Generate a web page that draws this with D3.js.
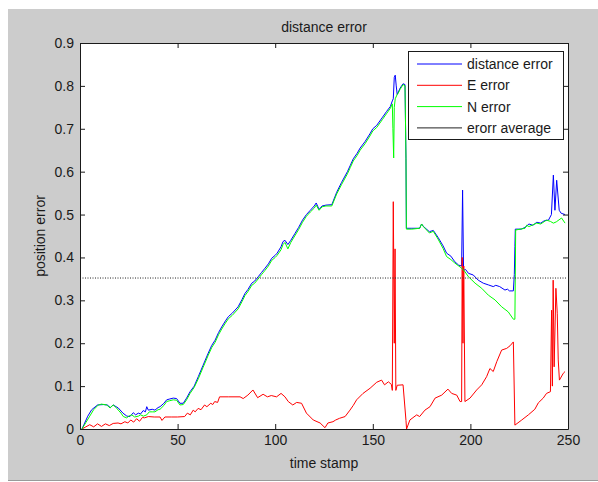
<!DOCTYPE html>
<html>
<head>
<meta charset="utf-8">
<script src="https://cdn.jsdelivr.net/npm/d3@7/dist/d3.min.js"></script>
<style>
  body { margin: 0; background: #fff; }
  svg text { font-family: "Liberation Sans", Arial, sans-serif; fill: #1a1a1a; }
</style>
</head>
<body>
<div id="chart"></div>
<script>
// series: [time stamp, position error]
var distanceError = [[1,0],[2,0.01],[4,0.03],[6,0.045],[9,0.056],[12,0.057],[14,0.056],[15.5,0.05],[17,0.056],[19.6,0.049],[22,0.037],[24,0.03],[25.6,0.029],[27.3,0.038],[28.5,0.033],[29.9,0.037],[31,0.035],[32.4,0.043],[33.5,0.04],[34.2,0.052],[35,0.044],[37,0.046],[38.4,0.044],[40,0.05],[41,0.052],[43,0.06],[44.4,0.068],[46,0.07],[47.8,0.072],[49.5,0.071],[51.2,0.06],[52.9,0.06],[54.6,0.072],[56.4,0.087],[58.5,0.1],[60.6,0.122],[63,0.148],[65.7,0.177],[67.5,0.195],[69.2,0.207],[71,0.225],[72.6,0.238],[74.5,0.252],[76,0.262],[78,0.27],[81,0.285],[83,0.302],[84.5,0.316],[86,0.325],[88,0.34],[89.5,0.345],[91.3,0.355],[93,0.365],[94.8,0.375],[96.5,0.385],[98.2,0.398],[100,0.405],[101,0.41],[103,0.425],[104,0.437],[105,0.44],[106.5,0.43],[108,0.44],[110,0.455],[112,0.47],[114,0.487],[116,0.5],[118,0.51],[120,0.52],[121,0.527],[122.5,0.512],[124,0.52],[126,0.522],[129,0.523],[131.5,0.552],[134,0.575],[137,0.6],[138.5,0.615],[140,0.63],[142,0.643],[143.5,0.655],[146,0.67],[148.5,0.688],[150,0.7],[152,0.708],[155,0.727],[157,0.74],[159,0.752],[160,0.765],[160.5,0.77],[161,0.82],[161.5,0.825],[162,0.8],[162.5,0.78],[163,0.785],[164,0.795],[165.5,0.805],[166.5,0.803],[167,0.63],[167.2,0.468],[170,0.468],[174,0.468],[175,0.478],[176,0.472],[179,0.46],[181,0.463],[183.4,0.447],[186,0.427],[187.8,0.41],[190,0.403],[192,0.39],[194,0.382],[195.5,0.38],[196,0.557],[196.5,0.37],[197.5,0.372],[199,0.363],[201.5,0.359],[204,0.347],[206.6,0.34],[209.2,0.336],[211.7,0.332],[213,0.335],[215,0.332],[217.7,0.324],[219,0.326],[220,0.322],[222,0.322],[222.5,0.36],[222.8,0.425],[223,0.466],[226,0.466],[228,0.47],[230,0.478],[232,0.475],[234,0.482],[236,0.48],[238,0.486],[240,0.487],[241.5,0.5],[242.5,0.592],[243.3,0.51],[244.2,0.58],[245.5,0.51],[246.5,0.503],[248.5,0.5]];

var eError = [[1,0],[3,0.005],[5,0.01],[7,0.005],[9,0.012],[11,0.006],[13,0.012],[15,0.008],[17,0.013],[19.5,0.014],[21,0.012],[23,0.017],[24.5,0.014],[26,0.021],[27.5,0.016],[29,0.024],[30.5,0.018],[32,0.027],[33,0.026],[35,0.029],[38,0.028],[41,0.028],[42,0.02],[43.5,0.028],[47,0.028],[50,0.028],[53.6,0.029],[55,0.037],[56.5,0.033],[58,0.044],[59,0.04],[60.5,0.048],[62,0.045],[63.8,0.056],[65,0.052],[67,0.06],[68,0.057],[69,0.064],[70.5,0.062],[71.5,0.075],[76,0.075],[82,0.075],[83.6,0.071],[86,0.079],[88.6,0.091],[91,0.073],[93.8,0.081],[96,0.075],[98,0.078],[100.7,0.075],[103,0.083],[105,0.075],[106.7,0.064],[109,0.056],[111,0.062],[113.5,0.06],[116,0.037],[119.5,0.021],[123,0.014],[125.5,0.003],[127,0.014],[129.6,0.017],[131,0.021],[133,0.025],[135.8,0.029],[138.3,0.044],[140,0.055],[141.7,0.068],[145,0.083],[148.6,0.095],[152,0.109],[154.5,0.114],[156,0.103],[158,0.11],[159.5,0.104],[160,0.09],[160.5,0.53],[161,0.2],[161.4,0.42],[161.8,0.09],[162.5,0.102],[165.5,0.103],[167,0.02],[167.3,0],[169,0.021],[172.5,0.033],[174,0.029],[176.7,0.044],[179.3,0.052],[181.9,0.072],[185.3,0.079],[188.5,0.093],[190.4,0.083],[193,0.079],[194.7,0.064],[195.5,0.064],[195.8,0.4],[196.2,0.2],[196.6,0.38],[197.2,0.064],[199.8,0.072],[203.2,0.091],[205.8,0.103],[208.3,0.122],[210,0.141],[211.7,0.134],[213.5,0.157],[216,0.184],[218.6,0.188],[220.3,0.194],[222,0.203],[222.8,0.009],[226.3,0.021],[229.7,0.033],[233,0.046],[234.8,0.061],[237.3,0.072],[239,0.083],[241,0.087],[241.6,0.277],[242,0.1],[242.4,0.347],[242.9,0.145],[243.8,0.328],[244.5,0.27],[245,0.161],[245.6,0.114],[247.6,0.13],[248.5,0.134]];

var nError = [[1,0],[3,0.015],[5,0.03],[7,0.045],[9.4,0.056],[11,0.058],[13.7,0.056],[15.4,0.049],[17,0.056],[18.5,0.05],[19.6,0.044],[21,0.037],[22.2,0.029],[23.9,0.026],[25,0.03],[26.5,0.033],[28,0.028],[29.9,0.03],[31,0.033],[32.5,0.03],[34.2,0.033],[35.5,0.04],[37,0.04],[38.4,0.04],[40,0.045],[41,0.046],[43,0.055],[44.4,0.064],[46,0.066],[47.8,0.068],[49.5,0.067],[51.2,0.056],[52.9,0.057],[54.6,0.068],[56.4,0.083],[58.5,0.097],[60.6,0.117],[63,0.143],[65.7,0.172],[67.5,0.19],[69.2,0.202],[71,0.22],[72.6,0.233],[74.5,0.247],[76,0.257],[78,0.265],[81,0.28],[83,0.297],[84.5,0.311],[86,0.32],[88,0.335],[89.5,0.34],[91.3,0.35],[93,0.36],[94.8,0.37],[96.5,0.38],[98.2,0.393],[100,0.4],[101,0.405],[103,0.418],[104,0.43],[105,0.435],[106.5,0.42],[108,0.435],[110,0.45],[112,0.465],[114,0.482],[116,0.496],[118,0.506],[120,0.515],[121,0.522],[122.5,0.51],[124,0.518],[126,0.52],[129,0.52],[131.5,0.548],[134,0.57],[137,0.595],[138.5,0.61],[140,0.625],[142,0.638],[143.5,0.65],[146,0.665],[148.5,0.683],[150,0.695],[152,0.703],[155,0.722],[157,0.735],[159,0.748],[160,0.758],[160.3,0.7],[160.7,0.632],[161,0.75],[161.5,0.77],[162.5,0.78],[163,0.783],[164,0.792],[165.5,0.803],[166.5,0.8],[167,0.634],[167.2,0.466],[170,0.466],[174,0.468],[175,0.478],[175.9,0.472],[179,0.457],[181,0.461],[183.4,0.443],[186,0.421],[187.8,0.402],[190,0.395],[192,0.387],[195.5,0.375],[197,0.368],[199,0.355],[202.4,0.34],[205.8,0.328],[209.2,0.312],[212.6,0.301],[216,0.285],[219.4,0.273],[222,0.256],[222.8,0.256],[223.2,0.464],[228,0.468],[228.8,0.475],[230,0.472],[232,0.476],[234,0.48],[236,0.478],[239,0.487],[241,0.484],[242.5,0.48],[244,0.483],[246.7,0.492],[248.5,0.48]];

var averageError = 0.352;
var averageSpan = [0, 249];

var xTicks = [0, 50, 100, 150, 200, 250];
var yTicks = [0, 0.1, 0.2, 0.3, 0.4, 0.5, 0.6, 0.7, 0.8, 0.9];
var legendLabels = ["distance error", "E error", "N error", "erorr average"];

var width = 598, height = 482;
var plot = {left: 80, top: 43, right: 568, bottom: 429};

var svg = d3.select("#chart").append("svg")
    .attr("width", width)
    .attr("height", height);

// grey figure background
svg.append("rect")
    .attr("x", 8).attr("y", 9)
    .attr("width", width - 8).attr("height", 471)
    .attr("fill", "#cccccc");
svg.append("line")
    .attr("x1", 8).attr("x2", width)
    .attr("y1", 480.5).attr("y2", 480.5)
    .attr("stroke", "#9a9a9a");

svg.append("rect")
    .attr("x", plot.left).attr("y", plot.top)
    .attr("width", plot.right - plot.left).attr("height", plot.bottom - plot.top)
    .attr("fill", "#fff");

var x = d3.scaleLinear().domain([0, 250]).range([plot.left, plot.right]);
var y = d3.scaleLinear().domain([0, 0.9]).range([plot.bottom, plot.top]);

var line = d3.line()
    .x(function(d) { return x(d[0]); })
    .y(function(d) { return y(d[1]); });

var g = svg.append("g");

// blue under, then red, then green on top like matlab's plot order
g.append("path").attr("d", line(distanceError))
    .attr("fill", "none").attr("stroke", "#0000ff").attr("stroke-width", 1);
g.append("path").attr("d", line(eError))
    .attr("fill", "none").attr("stroke", "#ff0000").attr("stroke-width", 1);
g.append("path").attr("d", line(nError))
    .attr("fill", "none").attr("stroke", "#00ff00").attr("stroke-width", 1);
g.append("path")
    .attr("d", line([[averageSpan[0], averageError], [averageSpan[1], averageError]]))
    .attr("fill", "none").attr("stroke", "#222").attr("stroke-width", 1)
    .attr("stroke-dasharray", "1,1.5");

// axes, ticks inward on all four sides
function styleAxis(sel) {
    sel.selectAll("path").attr("stroke", "#1a1a1a");
    sel.selectAll("line").attr("stroke", "#1a1a1a");
    sel.selectAll("text").style("font-size", "14px").attr("fill", "#1a1a1a");
}

svg.append("g")
    .attr("transform", "translate(0," + plot.bottom + ")")
    .call(d3.axisBottom(x).tickValues(xTicks).tickSizeInner(-5).tickSizeOuter(0).tickPadding(6))
    .call(styleAxis);
svg.append("g")
    .attr("transform", "translate(0," + plot.top + ")")
    .call(d3.axisTop(x).tickValues(xTicks).tickSizeInner(-5).tickSizeOuter(0).tickFormat(""))
    .call(styleAxis);
svg.append("g")
    .attr("transform", "translate(" + plot.left + ",0)")
    .call(d3.axisLeft(y).tickValues(yTicks).tickSizeInner(-5).tickSizeOuter(0).tickPadding(6)
        .tickFormat(function(d) { return d === 0 ? "0" : d3.format(".1f")(d); }))
    .call(styleAxis);
svg.append("g")
    .attr("transform", "translate(" + plot.right + ",0)")
    .call(d3.axisRight(y).tickValues(yTicks).tickSizeInner(-5).tickSizeOuter(0).tickFormat(""))
    .call(styleAxis);

// titles
svg.append("text")
    .attr("x", (plot.left + plot.right) / 2).attr("y", 32)
    .attr("text-anchor", "middle").style("font-size", "14px")
    .text("distance error");
svg.append("text")
    .attr("x", (plot.left + plot.right) / 2).attr("y", 468)
    .attr("text-anchor", "middle").style("font-size", "14px")
    .text("time stamp");
svg.append("text")
    .attr("transform", "translate(45," + ((plot.top + plot.bottom) / 2) + ") rotate(-90)")
    .attr("text-anchor", "middle").style("font-size", "14px")
    .text("position error");

// legend
var legendColors = ["#0000ff", "#ff0000", "#00ff00", "#222"];
var legend = svg.append("g").attr("transform", "translate(408,51)");
legend.append("rect")
    .attr("x", 0.5).attr("y", 0.5)
    .attr("width", 155).attr("height", 88)
    .attr("fill", "#fff").attr("stroke", "#1a1a1a");
legendLabels.forEach(function(label, i) {
    var ly = 13 + i * 21.3;
    legend.append("line")
        .attr("x1", 9).attr("x2", 54)
        .attr("y1", ly).attr("y2", ly)
        .attr("stroke", legendColors[i]).attr("stroke-width", 1);
    legend.append("text")
        .attr("x", 59).attr("y", ly).attr("dy", "0.35em")
        .style("font-size", "14px")
        .text(label);
});
</script>
</body>
</html>
